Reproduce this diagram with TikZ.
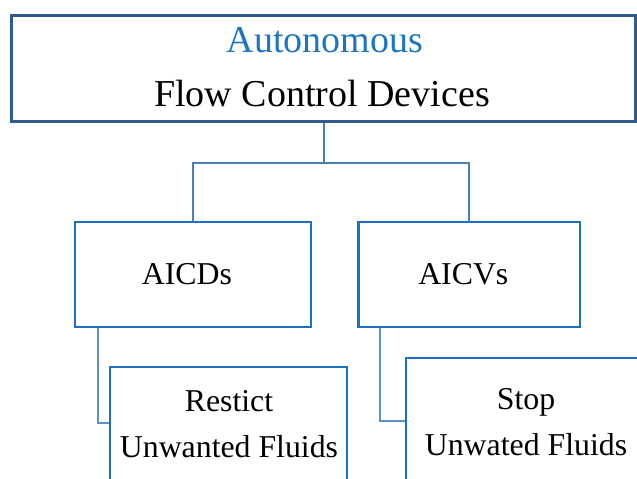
\documentclass[tikz,border=0pt]{standalone}
\usepackage{fontspec}
\setmainfont{Liberation Serif}
\usetikzlibrary{calc}
\definecolor{topframe}{HTML}{2E5B8C}
\definecolor{subframe}{HTML}{1C70C0}
\definecolor{trunkline}{HTML}{4A7EB4}
\definecolor{branchline}{HTML}{5A92C9}
\definecolor{titleblue}{HTML}{1C74C2}
\tikzset{
  topbox/.style={draw=topframe, line width=2.7bp, rectangle, inner sep=0pt},
  subbox/.style={draw=subframe, line width=2.6bp, rectangle, inner sep=0pt},
  trunk/.style={draw=trunkline, line width=2.4bp},
  branch/.style={draw=branchline, line width=2.4bp},
  bigtext/.style={anchor=base, inner sep=0pt, font=\fontsize{38bp}{40bp}\selectfont},
  boxtext/.style={anchor=base, inner sep=0pt, font=\fontsize{31.8bp}{34bp}\selectfont},
}
\begin{document}
\begin{tikzpicture}[x=1bp, y=-1bp]
  \useasboundingbox (0,0) rectangle (637,479);
  \clip (0,0) rectangle (637,479);

  % frames
  \node[topbox, minimum width=624bp, minimum height=106bp] (top) at (323.75,68.5) {};
  \node[subbox, minimum width=236bp, minimum height=105bp] (aicds) at (193,274.5) {};
  \node[subbox, minimum width=221.5bp, minimum height=105bp] (aicvs) at (469.25,274.5) {};
  \node[subbox, minimum width=237bp, minimum height=153bp] (restrict) at (228.5,443.5) {};
  \node[subbox, minimum width=294bp, minimum height=162bp] (stop) at (553,439) {};

  % labels
  \node[bigtext, text=titleblue] (ttl1) at (325,53) {Autonomous};
  \node[bigtext] (ttl2) at (322,107) {Flow Control Devices};
  \node[boxtext] (t-aicds) at (187,284.3) {AICDs};
  \node[boxtext] (t-aicvs) at (463.3,284.3) {AICVs};
  \node[boxtext] (t-restrict1) at (229,411) {Restict};
  \node[boxtext] (t-restrict2) at (229,457) {Unwanted Fluids};
  \node[boxtext] (t-stop1) at (526,409.5) {Stop};
  \node[boxtext] (t-stop2) at (526,455) {Unwated Fluids};

  % connectors
  \coordinate (fork) at (323.75,163);
  \draw[trunk] (top.south) -- (fork);
  \draw[trunk] (aicds.north) |- (fork) -| (aicvs.north);
  \draw[branch] ($(aicds.south west)+(24,0)$) |- ($(restrict.north west)+(0,57)$);
  \draw[branch] ($(aicvs.south west)+(22.5,0)$) |- ($(stop.north west)+(0,64)$);
\end{tikzpicture}
\end{document}
